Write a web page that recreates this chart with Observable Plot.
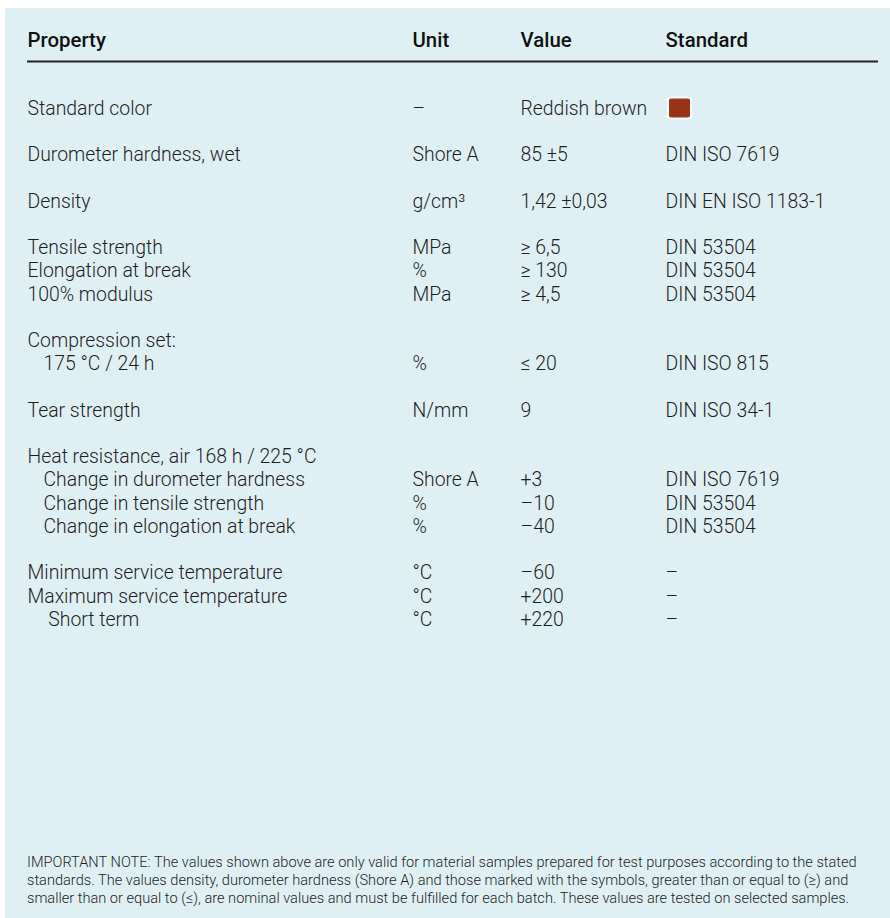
<!DOCTYPE html>
<html>
<head>
<meta charset="utf-8">
<script src="https://cdn.jsdelivr.net/npm/d3@7"></script>
<script src="https://cdn.jsdelivr.net/npm/@observablehq/plot@0.6"></script>
<style>
  html, body { margin: 0; padding: 0; background: #ffffff; }
  #panel { position: absolute; left: 5px; top: 8px; width: 885px; height: 910px; background: #dff0f4; overflow: hidden; }
  #panel svg { position: absolute; left: 0; top: 0; background: transparent; }
  #note { position: absolute; left: 22px; top: 846px; font-family: Roboto, sans-serif; font-weight: 300; font-size: 14.6px; line-height: 17.8px; color: #1e1e1e; white-space: nowrap; }
</style>
</head>
<body>
<div id="panel"><div id="note"></div></div>
<script>
// ---- data ----
const columns = ["Property", "Unit", "Value", "Standard"];
const properties = ["Standard color", "Durometer hardness, wet", "Density", "Tensile strength", "Elongation at break", "100% modulus", "Compression set:", "175 °C / 24 h", "Tear strength", "Heat resistance, air 168 h / 225 °C", "Change in durometer hardness", "Change in tensile strength", "Change in elongation at break", "Minimum service temperature", "Maximum service temperature", "Short term"];
const units = ["–", "Shore A", "g/cm³", "MPa", "%", "MPa", "", "%", "N/mm", "", "Shore A", "%", "%", "°C", "°C", "°C"];
const values = ["Reddish brown", "85 ±5", "1,42 ±0,03", "≥ 6,5", "≥ 130", "≥ 4,5", "", "≤ 20", "9", "", "+3", "–10", "–40", "–60", "+200", "+220"];
const standards = ["", "DIN ISO 7619", "DIN EN ISO 1183-1", "DIN 53504", "DIN 53504", "DIN 53504", "", "DIN ISO 815", "DIN ISO 34-1", "", "DIN ISO 7619", "DIN 53504", "DIN 53504", "–", "–", "–"];
const groups = [0, 1, 2, 3, 3, 3, 4, 4, 5, 6, 6, 6, 6, 7, 7, 7];
const indentLevel = [0, 0, 0, 0, 0, 0, 0, 1, 0, 0, 1, 1, 1, 0, 0, 1.3];
const swatchColor = "#983315";
const noteLines = [
  "IMPORTANT NOTE: The values shown above are only valid for material samples prepared for test purposes according to the stated",
  "standards. The values density, durometer hardness (Shore A) and those marked with the symbols, greater than or equal to (≥) and",
  "smaller than or equal to (≤), are nominal values and must be fulfilled for each batch. These values are tested on selected samples."
];

// ---- layout (styling) ----
const layout = {
  colStart: {Property: 22, Unit: 407, Value: 515, Standard: 660},
  tableEnd: 873,
  indentUnit: 16,
  lineTop: -3, lineBottom: 22,
  yTop: 30.3, yBottom: 611.1
};

const rows = properties.map((p, i) => ({
  line: i + groups[i],
  Property: p, Unit: units[i], Value: values[i], Standard: standards[i],
  indent: indentLevel[i]
}));

const cells = rows.flatMap(r => columns.map(c => ({
  col: c, line: r.line, text: r[c],
  x: layout.colStart[c] + (c === "Property" ? r.indent * layout.indentUnit : 0)
}))).filter(d => d.text !== "");

const header = columns.map(c => ({col: c, x: layout.colStart[c]}));
const swatchRow = rows.filter(r => r.Value === "Reddish brown");

const font = "Roboto, sans-serif";
const textColor = "#1e1e1e";

const chart = Plot.plot({
  width: 885,
  height: 840,
  margin: 0,
  style: {background: "transparent"},
  x: {type: "linear", domain: [0, 885], range: [0, 885], axis: null},
  y: {type: "linear", domain: [layout.lineTop, layout.lineBottom], range: [layout.yTop, layout.yBottom], axis: null},
  marks: [
    Plot.text(header, {x: "x", y: () => -2.92, text: "col", textAnchor: "start", lineAnchor: "middle",
      fontFamily: font, fontWeight: 500, fontSize: 20.4, fill: "#111"}),
    Plot.ruleY([-2.02], {x1: layout.colStart.Property, x2: layout.tableEnd, stroke: "#222", strokeWidth: 2}),
    Plot.text(cells, {x: "x", y: "line", text: "text", textAnchor: "start", lineAnchor: "middle",
      fontFamily: font, fontWeight: 300, fontSize: 19.4, fill: textColor}),
    Plot.rect(swatchRow, {
      x1: () => layout.colStart.Standard + 3, x2: () => layout.colStart.Standard + 26,
      y1: d => d.line - 0.45, y2: d => d.line + 0.45,
      fill: swatchColor, stroke: "#ffffff", strokeWidth: 2, rx: 3
    })
  ]
});

const panel = document.getElementById("panel");
panel.insertBefore(chart, panel.firstChild);
document.getElementById("note").innerHTML = noteLines.join("<br>");
</script>
</body>
</html>
